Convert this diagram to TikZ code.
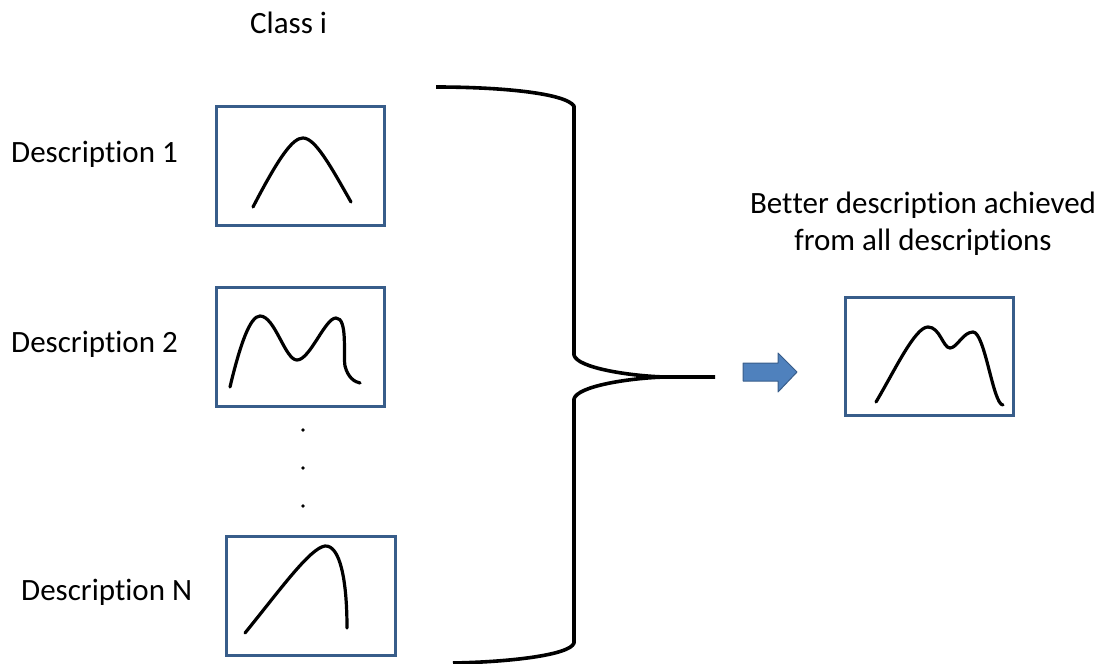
\documentclass[tikz,border=0pt]{standalone}
\usepackage{fontspec}
\setmainfont{Carlito}[RawFeature={-liga;-clig;-calt;-dlig}]
\definecolor{boxline}{RGB}{56,93,138}
\definecolor{arrowfill}{RGB}{79,129,189}
% plain letter pairs, kept apart so no ligature forms
\newcommand{\tI}{t\kern0pt i}
\newcommand{\tT}{t\kern0pt t}
\begin{document}
\begin{tikzpicture}[x=1pt,y=-1pt,
  box/.style={draw=boxline, line width=3pt, minimum width=168pt, minimum height=119pt, inner sep=0pt},
  curve/.style={line width=3.2pt, line cap=round, line join=round},
  label/.style={font=\fontsize{31}{37}\selectfont, inner sep=0pt, anchor=base west},
  bracket/.style={line width=3.6pt, line join=round}]
\useasboundingbox (0,0) rectangle (1109,664);

% labels
\node[label] (cls) at (250,33) {Class i};
\node[label] (t1) at (11,162) {Descrip\tI on 1};
\node[label] (t2) at (11,352) {Descrip\tI on 2};
\node[label] (tN) at (21,600) {Descrip\tI on N};
% the base anchor of a two-line node sits on its last line
\node[label, anchor=base, align=center] (better) at (923,250)
  {Be\tT er descrip\tI on achieved\\from all descrip\tI ons};

% boxes with distribution sketches
\node[box] (b1) at (300.5,166) {};
\node[box] (b2) at (300.5,347) {};
\node[box, minimum width=169pt] (b3) at (311,596) {};
\node[box, minimum height=118pt] (b4) at (929.5,356.5) {};

\draw[curve] (253,207) .. controls (280,155) and (293,138) .. (303,138)
  .. controls (315,138) and (330,165) .. (351,202);
\draw[curve] (230,387) .. controls (240,345) and (250,316) .. (260,316)
  .. controls (275,316) and (285,360) .. (297,360)
  .. controls (310,360) and (325,318) .. (336,318)
  .. controls (348,318) and (343,355) .. (345,366)
  .. controls (348,378) and (355,382) .. (360,383);
\draw[curve] (245,633) .. controls (280,590) and (310,548) .. (325,546)
  .. controls (340,545) and (347,580) .. (347,628);
\draw[curve] (876,402) .. controls (895,370) and (915,327) .. (928,327)
  .. controls (940,327) and (943,348) .. (950,348)
  .. controls (957,348) and (963,332) .. (973,332)
  .. controls (985,332) and (993,405) .. (1003,405);

% vertical ellipsis
\foreach \yy in {430,468,506} \fill (303,\yy) circle (1.8pt);

% curly bracket
\coordinate (tip) at (665,377);
\coordinate (tipend) at (715,377);
\draw[bracket] (436,87) .. controls (500,87) and (565,93) .. (574,106)
  -- (574,355) .. controls (577,368) and (630,376) .. (tip) -- (tipend);
\draw[bracket] (tip) .. controls (630,378) and (577,386) .. (574,399)
  -- (574,643) .. controls (570,655) and (510,662) .. (453,663);

% block arrow
\draw[boxline, fill=arrowfill, line width=1pt, line join=round]
  (743,363) -- (778,363) -- (778,353) -- (797,372) -- (778,392)
  -- (778,381) -- (743,381) -- cycle;
\end{tikzpicture}
\end{document}
